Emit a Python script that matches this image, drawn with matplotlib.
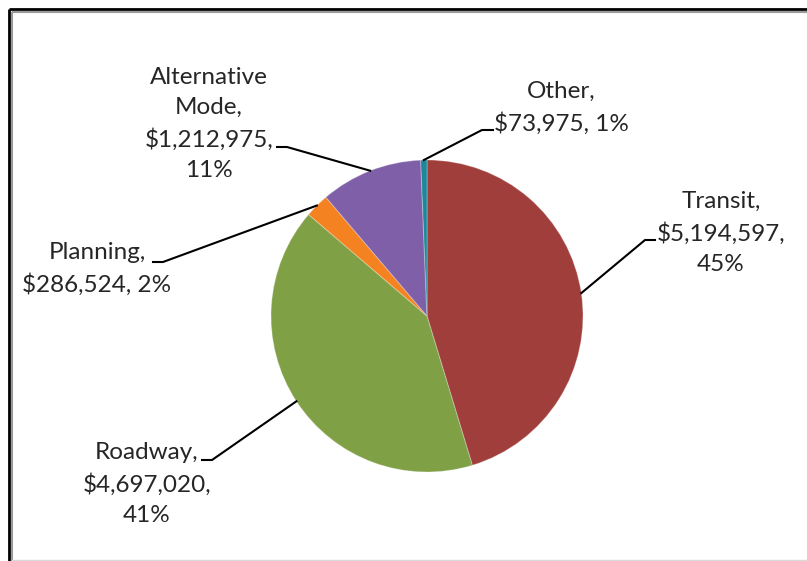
import numpy as np
import matplotlib.pyplot as plt

# data
names = ['Transit', 'Roadway', 'Planning', 'Alternative Mode', 'Other']
values = [5194597, 4697020, 286524, 1212975, 73975]
colors = ['#A03E3C', '#80A046', '#F58220', '#7F60A8', '#1F8799']
# how each label wraps (name / value / percent)
label_fmt = ['{n},\n{v},\n{p}', '{n},\n{v},\n{p}', '{n},\n{v}, {p}',
             'Alternative\nMode,\n{v},\n{p}', '{n},\n{v}, {p}']

W, H = 807, 561
fig = plt.figure(figsize=(W / 100, H / 100), dpi=100)
ax = fig.add_axes([0, 0, 1, 1])
ax.set_xlim(0, W)
ax.set_ylim(0, H)
ax.set_aspect('equal')
ax.axis('off')

def Y(y):
    # pixel row from top -> data y
    return H - y

# frame (top and left edges show in the picture)
ax.plot([8.7, 8.7], [Y(8.7), Y(H)], color='black', lw=2.0, solid_capstyle='butt')
ax.plot([8.7, W], [Y(8.7), Y(8.7)], color='black', lw=2.0, solid_capstyle='butt')
ax.plot([11.5, 11.5], [Y(11.5), Y(H)], color='#9a9a9a', lw=1.5, solid_capstyle='butt')
ax.plot([11.5, W], [Y(11.5), Y(11.5)], color='#9a9a9a', lw=1.5, solid_capstyle='butt')
ax.plot([12, W], [Y(560), Y(560)], color='#d9d9d9', lw=1.0)

cx, cy, r = 427, Y(316), 156
wedges, _ = ax.pie(values, colors=colors, startangle=90, counterclock=False,
                   center=(cx, cy), radius=r,
                   wedgeprops=dict(linewidth=0.8, edgecolor='#ffffff40'))
ax.set_xlim(0, W)
ax.set_ylim(0, H)

total = sum(values)
# label block centre, elbow, line end (pixels from top-left)
text_pos = [(721, 233), (147, 484), (97, 269), (209, 124), (561, 108)]
elbows = [(645, 240), (212, 460), (163, 262), (287, 147), (482, 130)]
ends = [(655, 240), (202, 460), (153, 262), (277, 147), (493, 130)]

for i, w in enumerate(wedges):
    pct = '{:.0f}%'.format(round(values[i] / total * 100))
    txt = label_fmt[i].format(n=names[i], v='${:,}'.format(values[i]), p=pct)
    ax.text(text_pos[i][0], Y(text_pos[i][1]), txt, ha='center', va='center',
            multialignment='center', fontsize=17.5, family=['Lato', 'DejaVu Sans'],
            color='#262626', linespacing=1.55)
    mid = np.radians((w.theta1 + w.theta2) / 2)
    px, py = cx + r * np.cos(mid), cy + r * np.sin(mid)
    ax.plot([px, elbows[i][0], ends[i][0]], [py, Y(elbows[i][1]), Y(ends[i][1])],
            color='black', lw=1.5)

fig.savefig('out.png', dpi=100)
